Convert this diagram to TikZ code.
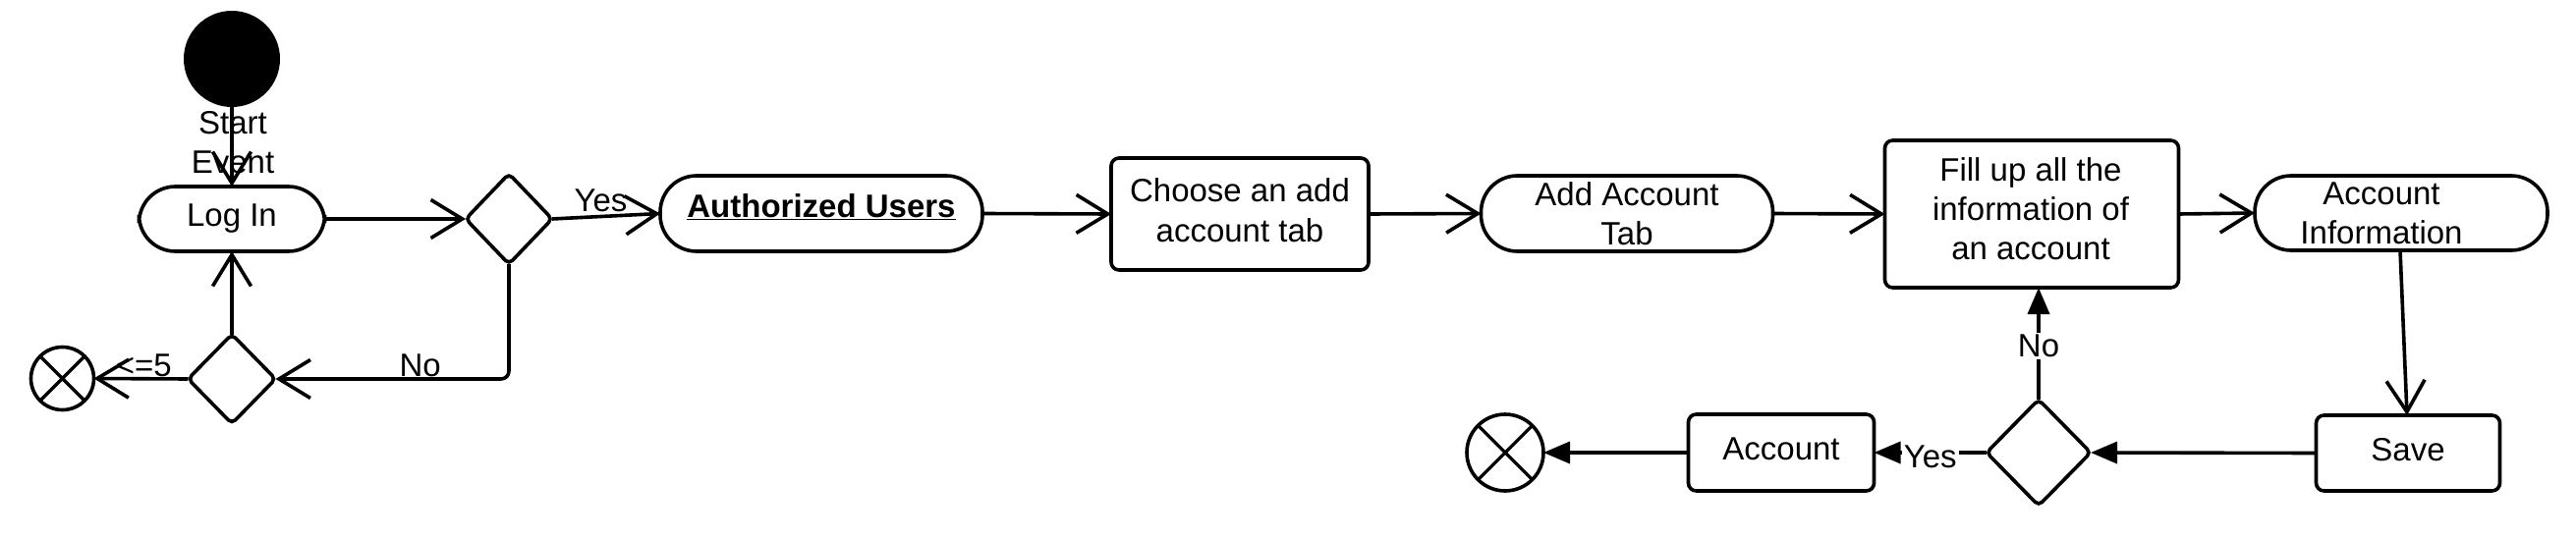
\documentclass[tikz,border=0pt]{standalone}
\usepackage{fontspec}
\setmainfont{Liberation Sans}
\usetikzlibrary{arrows.meta,shapes.geometric,calc}
\begin{document}
\begin{tikzpicture}[x=1pt,y=-1pt,
  every node/.style={font=\fontsize{33}{40}\selectfont, align=center, inner sep=0pt, outer sep=0pt},
  ln/.style={line width=3.6pt},
  stadium/.style={draw, ln, rectangle, rounded corners=37pt},
  actbox/.style={draw, ln, rectangle, rounded corners=8pt},
  decision/.style={draw, ln, diamond, rounded corners=5pt},
  endstate/.style={draw, ln, circle},
  openarr/.style={ln, -{Straight Barb[length=32pt,width=39pt]}},
  fillarr/.style={ln, -{Triangle[length=27pt,width=22pt]}},
  lbl/.style={inner sep=2pt}
]
\useasboundingbox (0,0) rectangle (2622,548);

% nodes
\node[circle, fill=black, minimum size=98pt] (start) at (236,60) {};
\node (startlbl) at (237,145) {Start\\Event};
\node[stadium, minimum width=189pt, minimum height=66pt] (login) at (236,223) {Log In};
\node[decision, minimum width=88pt, minimum height=92pt] (d1) at (518,223) {};
\node[stadium, minimum width=328pt, minimum height=77pt] (au) at (836,217.5) {\raisebox{16pt}{\bfseries\underline{Authorized Users}}};
\node[actbox, minimum width=262pt, minimum height=114pt] (choose) at (1262,218) {\raisebox{2pt}{\begin{tabular}{@{}c@{}}Choose an add\\account tab\end{tabular}}};
\node[stadium, minimum width=297pt, minimum height=77pt] (aat) at (1656,217.5) {Add Account\\Tab};
\node[actbox, minimum width=299pt, minimum height=150pt] (fill) at (2068,218) {};
\node (filltext) at (2067,213) {Fill up all the\\information of\\an account};
\node[stadium, minimum width=298pt, minimum height=76pt] (ai) at (2444,217) {};
\node (aitext) at (2424,217) {Account\\Information};
\node[actbox, minimum width=187pt, minimum height=77pt] (save) at (2451,461.5) {\raisebox{7pt}{Save}};
\node[decision, minimum width=106pt, minimum height=108pt] (d3) at (2075,461) {};
\node[actbox, minimum width=189pt, minimum height=78pt] (account) at (1813,461) {\raisebox{7pt}{Account}};
\node[endstate, minimum size=78pt] (end2) at (1532,461) {};
\node[decision, minimum width=89pt, minimum height=91pt] (d2) at (236,386) {};
\node[endstate, minimum size=64pt] (end1) at (63.5,385.5) {};

% crosses in end states
\draw[line width=3.2pt] (end1.north west) -- (end1.south east) (end1.north east) -- (end1.south west);
\draw[line width=3.2pt] (end2.north west) -- (end2.south east) (end2.north east) -- (end2.south west);

% connectors
\draw[openarr] (start.south) -- (login.north);
\draw[openarr] (login.east) -- (d1.west);
\draw[openarr] (d1.east) -- node[lbl, above, pos=0.45, yshift=3pt] {Yes} (au.west);
\draw[openarr] (au.east) -- (choose.west);
\draw[openarr] (choose.east) -- (aat.west);
\draw[openarr] (aat.east) -- (fill.west);
\draw[openarr] (fill.east) -- (ai.west);
\draw[openarr] ([xshift=-1pt]ai.south) -- ([xshift=-1pt]save.north);
\draw[fillarr] (save.west) -- (d3.east);
\draw[fillarr] (d3.north) -- node[lbl, fill=white, pos=0.48] {No} (d3.north |- fill.south);
\draw[fillarr] (d3.west) -- node[lbl, fill=white, pos=0.5, yshift=-4pt] {Yes} (account.east);
\draw[fillarr] (account.west) -- (end2.east);
\draw[openarr, rounded corners=8pt] (d1.south) |- node[lbl, above, pos=0.69] {No} (d2.east);
\draw[openarr] (d2.north) -- (login.south);
\draw[openarr] (d2.west) -- node[lbl, above, pos=0.47] {<=5} (end1.east);
\end{tikzpicture}
\end{document}
